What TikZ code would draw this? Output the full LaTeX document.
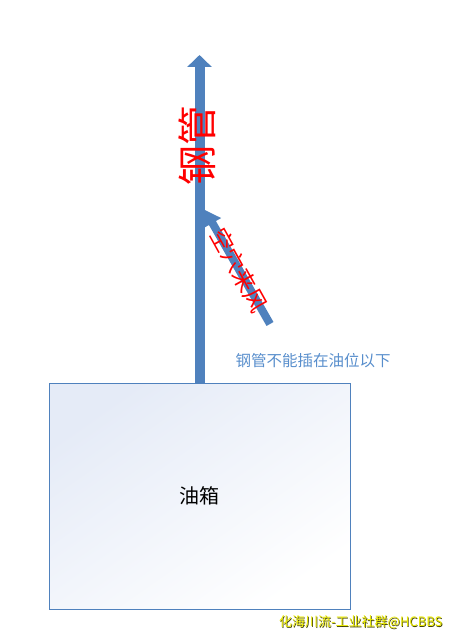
\documentclass[tikz,border=0pt]{standalone}
\usepackage{fontspec}
\setmainfont{Noto Sans CJK SC}
\usetikzlibrary{arrows.meta,positioning}
\definecolor{pipeblue}{RGB}{79,129,189}
\definecolor{noteblue}{RGB}{88,142,204}
\definecolor{tankedge}{RGB}{79,129,189}
\definecolor{tanktint}{RGB}{229,235,247}
\definecolor{markyellow}{RGB}{235,235,0}
\definecolor{markshade}{RGB}{60,60,0}
\tikzset{
    pipe/.style={pipeblue,line width=10pt,-{Triangle[length=12pt,width=24pt]}},
    branch/.style={pipeblue,line width=8pt,-{Triangle[length=15pt,width=19pt]}},
    redlabel/.style={text=red,inner sep=0pt}
}
\begin{document}
\begin{tikzpicture}[x=1pt,y=-1pt]
    \useasboundingbox (0,0) rectangle (448,639);
    \node[draw=tankedge,line width=1pt,minimum width=301pt,minimum height=226pt,
        top color=tanktint,bottom color=white,shading angle=35,
        font=\fontsize{20}{20}\selectfont] (tank) at (199.5,496) {油箱};
    \coordinate (pipetop) at (199.5,55);
    \coordinate (branchtail) at (270,324);
    \coordinate (branchtip) at (205,210);
    \draw[pipe] (tank.north)--(pipetop);
    \draw[branch] (branchtail)--(branchtip);
    \node[redlabel,rotate=90,font=\fontsize{40}{40}\selectfont] (pipename) at (197,146) {钢管};
    \node[redlabel,rotate=-61,font=\fontsize{23}{23}\selectfont] (branchname) at (239,270) {空穴来风};
    \node[text=noteblue,font=\fontsize{15.5}{16}\selectfont] (note) at (313,361) {钢管不能插在油位以下};
    \node[text=markshade,font=\fontsize{13}{13}\selectfont] (markshadow) at (361.5,623) {化海川流-工业社群@HCBBS};
    \node[text=markyellow,font=\fontsize{13}{13}\selectfont] (mark) at (360.8,622.3) {化海川流-工业社群@HCBBS};
\end{tikzpicture}
\end{document}
